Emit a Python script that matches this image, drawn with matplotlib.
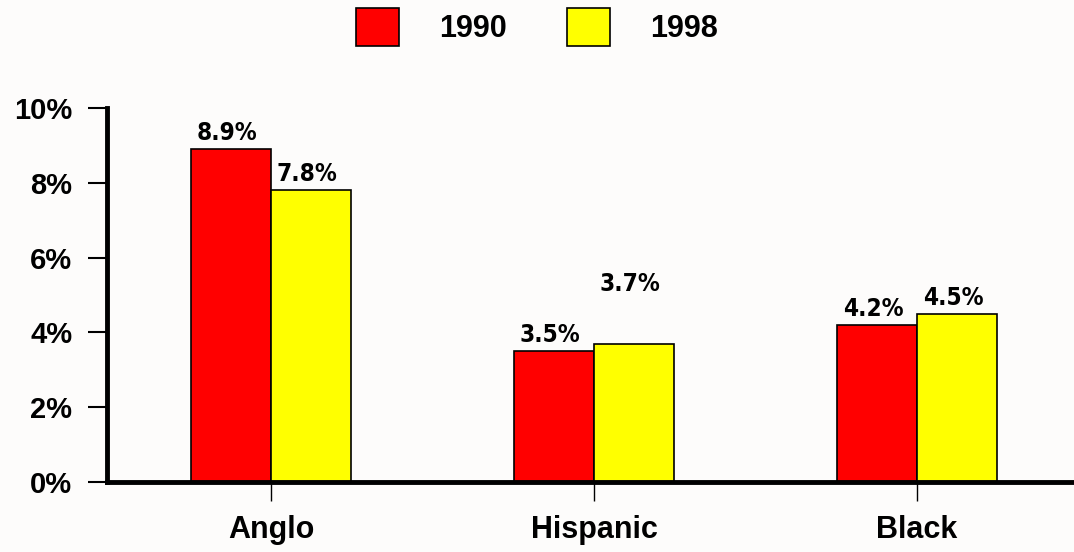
import numpy as np
import matplotlib.pyplot as plt

groups = ['Anglo', 'Hispanic', 'Black']
years = ['1990', '1998']
rate_1990 = [8.9, 3.5, 4.2]
rate_1998 = [7.8, 3.7, 4.5]
yticks = [0, 2, 4, 6, 8, 10]

colors = ['#ff0000', '#ffff00']
bg = '#fdfcfb'
# label offsets above bar tops (points)
offsets_1990 = [3, 3, 3]
offsets_1998 = [3, 34, 3]

fig = plt.figure(figsize=(10.74, 5.52), dpi=100, facecolor=bg)
ax = fig.add_axes([107 / 1074, 70 / 552, 967 / 1074, 374 / 552])
ax.set_facecolor(bg)

x = np.arange(len(groups))
w = 0.248
b1 = ax.bar(x - w / 2, rate_1990, w, color=colors[0], edgecolor='black', linewidth=1.2, label=years[0], zorder=3)
b2 = ax.bar(x + w / 2, rate_1998, w, color=colors[1], edgecolor='black', linewidth=1.2, label=years[1], zorder=3)

lblfont = dict(family='DejaVu Sans', fontstretch='condensed', fontweight='bold', fontsize=17.5,
               ha='center', va='bottom')
for bars, vals, offs in [(b1, rate_1990, offsets_1990), (b2, rate_1998, offsets_1998)]:
    for r, v, o in zip(bars, vals, offs):
        ax.annotate(f'{v}%', (r.get_x() + r.get_width() / 2, v), xytext=(-3, o),
                    textcoords='offset points', **lblfont)

ax.set_xlim(-0.508, 2.486)
ax.set_ylim(0, 10)
ax.set_yticks(yticks)
ax.set_yticklabels([f'{t}%' for t in yticks], fontsize=21, fontweight='bold', family='Liberation Sans')
ax.set_xticks(x)
ax.set_xticklabels(groups, fontsize=22, fontweight='bold', family='Liberation Sans')
ax.tick_params(axis='y', length=14, width=1.5, pad=11)
ax.tick_params(axis='x', length=14, width=1, pad=10)

for s in ['top', 'right']:
    ax.spines[s].set_visible(False)
ax.spines['left'].set_linewidth(3.5)
ax.spines['bottom'].set_linewidth(3.5)
ax.spines['left'].set_zorder(4)
ax.spines['bottom'].set_zorder(4)

fig.legend(handles=[b1, b2], loc='upper center', bbox_to_anchor=(0.5, 1.035), ncol=2, frameon=False,
           prop=dict(family='Liberation Sans', weight='bold', size=22),
           handlelength=1.4, handleheight=1.55, handletextpad=1.3, columnspacing=2.0)

fig.savefig('out.png', dpi=100, facecolor=bg)
